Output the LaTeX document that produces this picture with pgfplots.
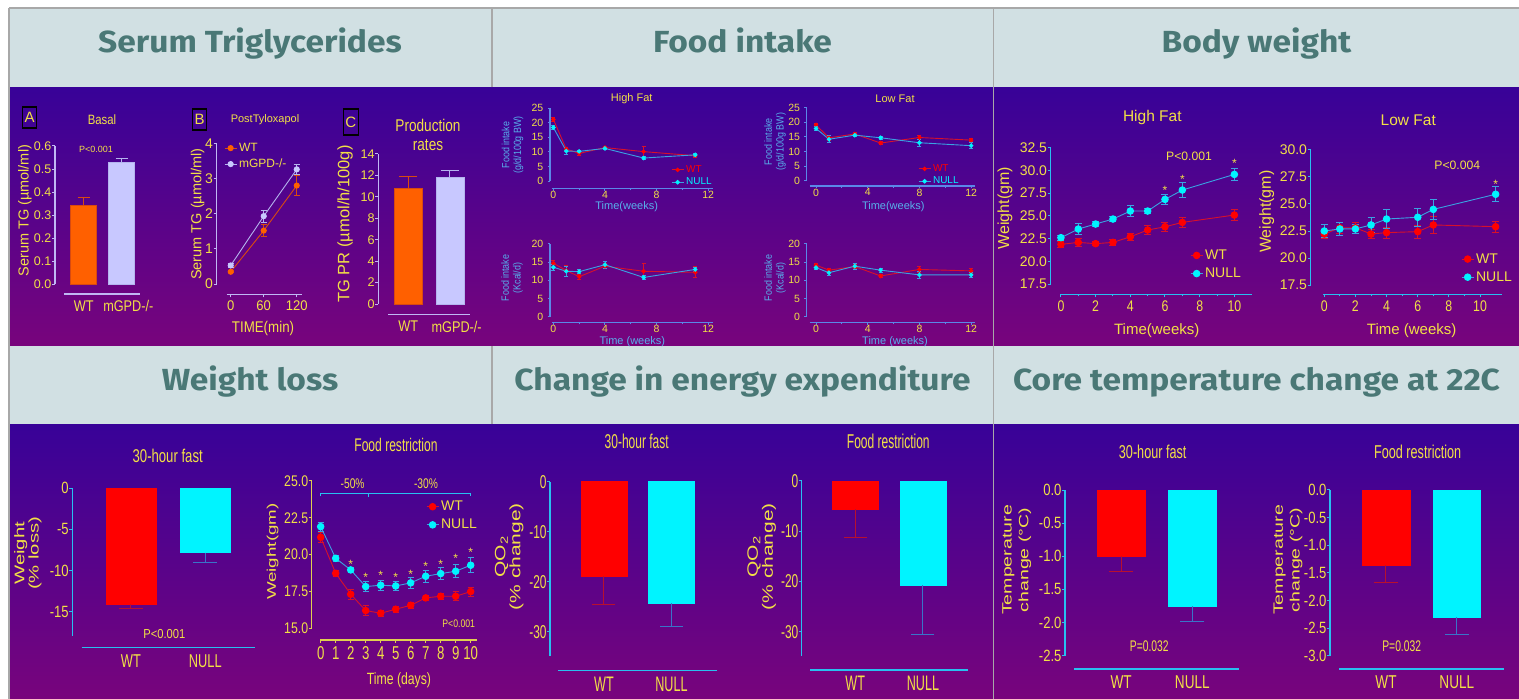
\documentclass[border=0pt]{standalone}
\usepackage{pgfplots}
\pgfplotsset{compat=1.18}
\usepackage{fontspec}
\setmainfont{Liberation Sans}
\newfontfamily\hdrfont{Fira Sans}
\newcommand\fs[2]{\fontsize{#1}{#2}\selectfont}
\definecolor{hdrbg}{HTML}{D1E0E3}
\definecolor{hdrtx}{HTML}{4A7876}
\definecolor{gridln}{HTML}{A8A8A8}
\definecolor{bgtop}{RGB}{56,2,152}
\definecolor{bgbot}{RGB}{120,4,124}
\definecolor{tyel}{HTML}{F2E046}
\definecolor{acyan}{HTML}{28C0F0}
\definecolor{alav}{HTML}{C0B8F4}
\definecolor{ablue}{HTML}{5A88E8}
\definecolor{lblue}{HTML}{58B0EC}
\definecolor{ayel}{HTML}{E0D050}
\definecolor{wtred}{HTML}{FF0000}
\definecolor{wtline}{HTML}{D8102A}
\definecolor{nucy}{HTML}{00F4FF}
\definecolor{nuline}{HTML}{3AA2E2}
\definecolor{errred}{HTML}{B8102E}
\definecolor{errblue}{HTML}{3A74C8}
\definecolor{orng}{HTML}{FF6000}
\definecolor{orngd}{HTML}{D84A10}
\definecolor{lav}{HTML}{C8C8FF}
\definecolor{lavd}{HTML}{B4B4EE}
\pgfplotsset{
  gp/.style={scale only axis, clip=false, anchor=south west,
    axis x line*=bottom, axis y line*=left,
    tick align=outside, major tick length=3pt, minor tick length=2pt,
    axis line style={line width=1.2pt}, tick style={line width=1pt},
    xticklabel style={text=tyel}, yticklabel style={text=tyel, inner sep=0.5pt},
    /pgf/number format/assume math mode=true,
    legend cell align=left,
    legend image code/.code={\draw[mark repeat=2,mark phase=2,##1] plot coordinates {(0pt,0pt) (6pt,0pt) (12pt,0pt)};},
    legend style={draw=none, fill=none, text=tyel, inner sep=0pt, row sep=2pt}},
  food/.style={major tick length=2.5pt, minor tick length=2pt,
    yticklabel style={inner sep=4pt}, xticklabel style={inner sep=0pt}},
  axc/.style={axis line style={draw=#1}, tick style={draw=#1}},
  xs/.style={x axis line style={shorten <=#1}},
  ys/.style={y axis line style={shorten <=#1}},
  ytl/.style 2 args={yticklabel style={font=\fs{#1}{#1}, xscale=#2}},
  xtl/.style 2 args={xticklabel style={font=\fs{#1}{#1}, xscale=#2}},
  cats/.style 2 args={xtick={0,#2}, xticklabels={WT,#1}, xtick style={draw=none}},
  bar/.style n args={6}{ybar, bar shift=0pt, bar width=#1, fill=#2, draw=#3,
     error bars/y dir=#4, error bars/y explicit,
     error bars/error bar style={#5, line width=1pt},
     error bars/error mark options={rotate=90, mark size=#6, #5, line width=1pt}},
  ser/.style n args={4}{#1, line width=0.9pt, mark=*, mark size=#3, mark options={fill=#2, draw=#2, solid},
     error bars/y dir=both, error bars/y explicit,
     error bars/error bar style={#1, line width=0.8pt},
     error bars/error mark options={rotate=90, mark size=#4, #1, line width=0.8pt}},
}
\begin{document}
\begin{tikzpicture}[x=1pt,y=1pt]
\useasboundingbox (0,0) rectangle (1519,699);
\fill[white] (0,0) rectangle (1519,699);
\fill[hdrbg] (9,611.7) rectangle (1519,690.7);
\fill[hdrbg] (9,274.7) rectangle (1519,353);
\shade[top color=bgtop, bottom color=bgbot] (9,353) rectangle (1519,611.7);
\shade[top color=bgtop, bottom color=bgbot] (9,0) rectangle (1519,274.7);
\draw[gridln, line width=1.6pt] (9,690.7) -- (1519,690.7);
\draw[gridln, line width=1.6pt] (9,0) -- (9,690.7);
\draw[gridln, line width=1.6pt] (491.7,611.7) -- (491.7,690.7);
\draw[gridln, line width=1.6pt] (491.7,274.7) -- (491.7,353);
\draw[gridln, line width=1.6pt] (993.3,0) -- (993.3,690.7);
% headers
\begin{scope}[every node/.style={anchor=base, text=hdrtx, font=\hdrfont\bfseries\fs{30.5}{31}, xscale=1.1}]
\node at (250,646.7) {Serum Triglycerides};
\node at (742.5,646.7) {Food intake};
\node at (1256.5,646.7) {Body weight};
\node at (250,308.7) {Weight loss};
\node at (742.5,308.7) {Change in energy expenditure};
\node at (1256.5,308.7) {Core temperature change at 22C};
\end{scope}

%================ Serum TG =================
\begin{scope}[every node/.append style={text=tyel}]
\node[draw=black, line width=1.2pt, minimum width=14pt, minimum height=21pt, inner sep=0pt, font=\fs{15}{15}] at (29.7,581.5) {A};
\node[draw=black, line width=1.2pt, minimum width=14pt, minimum height=21pt, inner sep=0pt, font=\fs{15}{15}] at (199.7,579.5) {B};
\node[draw=black, line width=1.2pt, minimum width=15pt, minimum height=26pt, inner sep=0pt, font=\fs{15}{15}] at (350.8,577) {C};
\node[font=\fs{13.5}{14}, xscale=0.84] at (102,579) {Basal};
\node[font=\fs{9}{9}] at (96,550) {P<0.001};
\node[font=\fs{11}{11}] at (265,579) {PostTyloxapol};
\node[font=\fs{17}{19}, xscale=0.8, align=center] at (428,564.5) {Production\\rates};
\node[font=\fs{14.5}{15}, rotate=90] at (25,488.3) {Serum TG (µmol/ml)};
\node[font=\fs{14.5}{15}, rotate=90] at (197.5,485) {Serum TG (µmol/ml)};
\node[font=\fs{16.5}{17}, rotate=90] at (345,475) {TG PR (µmol/h/100g)};
\node[font=\fs{15.5}{16}, xscale=0.86] at (263,371) {TIME(min)};
\end{scope}

\begin{axis}[gp, axc=alav, at={(55pt,405pt)}, width=85pt, height=148pt,
  xmin=-0.759, xmax=1.489, ymin=-0.042, ymax=0.6, xs=9pt, ys=9.7pt,
  cats={mGPD-/-}{1.18},
  ytick={0,0.1,0.2,0.3,0.4,0.5,0.6}, yticklabels={0.0,0.1,0.2,0.3,0.4,0.5,0.6},
  ytl={12.5}{1}, xtl={15.5}{0.82}]
\addplot[bar={26pt}{orng}{orngd}{plus}{orngd}{6pt}] coordinates {(0,0.345) +- (0,0.03)};
\addplot[bar={26pt}{lav}{lavd}{plus}{lavd}{6pt}] coordinates {(1,0.53) +- (0,0.017)};
\end{axis}

\begin{axis}[gp, axc=alav, at={(216.7pt,404.7pt)}, width=85pt, height=151pt,
  xmin=-25.5, xmax=129, ymin=-0.29, ymax=4, xs=10pt, ys=10.3pt,
  xtick={0,60,120}, xticklabels={0,60,120}, ytick={0,1,2,3,4}, yticklabels={0,1,2,3,4},
  ytl={14}{1}, xtl={14}{0.93},
  legend style={at={(rel axis cs:0.086,1.015)}, anchor=north west, font=\fs{12}{12}}]
\addplot[ser={orngd}{orng}{2.6pt}{3pt}] coordinates {(0,0.35) +- (0,0.03) (60,1.52) +- (0,0.17) (120,2.8) +- (0,0.28)};
\addplot[ser={lavd}{lav}{2.6pt}{3pt}] coordinates {(0,0.53) +- (0,0.05) (60,1.93) +- (0,0.17) (120,3.26) +- (0,0.13)};
\legend{WT,mGPD-/-}
\end{axis}

\begin{axis}[gp, axc=alav, at={(378.3pt,384.7pt)}, width=91.7pt, height=160.3pt,
  xmin=-0.72, xmax=1.48, ymin=-0.96, ymax=14, xs=9.7pt, ys=10.3pt,
  cats={mGPD-/-}{1.16},
  ytick={0,2,4,6,8,10,12,14}, yticklabels={0,2,4,6,8,10,12,14},
  ytl={12.6}{1}, xtl={15.5}{0.82}]
\addplot[bar={28pt}{orng}{orngd}{plus}{orngd}{9pt}] coordinates {(0,10.8) +- (0,1.1)};
\addplot[bar={28pt}{lav}{lavd}{plus}{lavd}{9pt}] coordinates {(1,11.8) +- (0,0.7)};
\end{axis}

%================ Food intake =================
\begin{scope}[every node/.append style={text=tyel}]
\node[font=\fs{11}{11}] at (631.7,600.7) {High Fat};
\node[font=\fs{11}{11}] at (895,600.7) {Low Fat};
\end{scope}
\begin{scope}[every node/.append style={text=lblue}]
\node[font=\fs{10.5}{11.6}, align=center, yscale=0.85, rotate=90] at (512.5,554) {Food intake\\(g/d/100g BW)};
\node[font=\fs{10.5}{11.6}, align=center, yscale=0.85, rotate=90] at (512,421) {Food intake\\(Kcal/d)};
\node[font=\fs{10.5}{11.6}, align=center, yscale=0.85, rotate=90] at (775,557.3) {Food intake\\(g/d/100g BW)};
\node[font=\fs{10.5}{11.6}, align=center, yscale=0.85, rotate=90] at (775,421) {Food intake\\(Kcal/d)};
\node[font=\fs{11}{11}] at (626.7,492.5) {Time(weeks)};
\node[font=\fs{11}{11}] at (632.3,357) {Time (weeks)};
\node[font=\fs{11}{11}] at (893.3,492.5) {Time(weeks)};
\node[font=\fs{11}{11}] at (895,357) {Time (weeks)};
\end{scope}

\begin{axis}[gp, food, axc=ablue, at={(550pt,510.7pt)}, width=163.3pt, height=80pt,
  xmin=-0.26, xmax=12.4, ymin=-2.5, ymax=25, xs=1.7pt, ys=7.3pt,
  xtick={0,4,8,12}, xticklabels={0,4,8,12}, minor xtick={2,6,10},
  ytick={0,5,10,15,20,25}, yticklabels={0,5,10,15,20,25},
  ytl={10.5}{1}, xtl={10.5}{1},
  legend style={at={(rel axis cs:0.741,0.31)}, anchor=north west, font=\fs{10}{10}, row sep=0pt}]
\addplot[ser={wtline}{wtred}{1.8pt}{2pt}] coordinates {(0,21.2) +- (0,0.8) (1,11.0) +- (0,0.6) (2,9.5) +- (0,0.8) (4,11.5) +- (0,0.5) (7,10.1) +- (0,1.7) (11,8.7) +- (0,0.6)};
\addplot[ser={nuline}{nucy}{1.8pt}{2pt}] coordinates {(0,18.4) +- (0,0.7) (1,10.3) +- (0,1.0) (2,10.2) +- (0,0.4) (4,11.2) +- (0,0.4) (7,7.9) +- (0,0.4) (11,9.0) +- (0,0.5)};
\legend{\textcolor{wtred}{WT},\textcolor{nucy}{NULL}}
\end{axis}

\begin{axis}[gp, food, axc=ablue, at={(550pt,376.7pt)}, width=163.3pt, height=78.3pt,
  xmin=-0.26, xmax=12.4, ymin=-1.54, ymax=20, xs=1.7pt, ys=5.6pt,
  xtick={0,4,8,12}, xticklabels={0,4,8,12}, minor xtick={2,6,10},
  ytick={0,5,10,15,20}, yticklabels={0,5,10,15,20},
  ytl={10.5}{1}, xtl={10.5}{1}]
\addplot[ser={wtline}{wtred}{1.8pt}{2pt}] coordinates {(0,14.7) +- (0,0.8) (1,12.7) +- (0,1.5) (2,11.0) +- (0,0.7) (4,13.9) +- (0,0.7) (7,12.5) +- (0,2.2) (11,12.2) +- (0,1.5)};
\addplot[ser={nuline}{nucy}{1.8pt}{2pt}] coordinates {(0,13.6) +- (0,0.8) (1,12.5) +- (0,1.4) (2,12.4) +- (0,0.6) (4,14.3) +- (0,0.9) (7,10.8) +- (0,0.6) (11,13.0) +- (0,0.6)};
\end{axis}

\begin{axis}[gp, food, axc=ablue, at={(806.7pt,513pt)}, width=168.3pt, height=78.3pt,
  xmin=-0.72, xmax=12.3, ymin=-1.8, ymax=25, xs=3pt, ys=5.3pt,
  xtick={0,4,8,12}, xticklabels={0,4,8,12}, minor xtick={2,6,10},
  ytick={0,5,10,15,20,25}, yticklabels={0,5,10,15,20,25},
  ytl={10.5}{1}, xtl={10.5}{1},
  legend style={at={(rel axis cs:0.661,0.30)}, anchor=north west, font=\fs{10}{10}, row sep=0pt}]
\addplot[ser={wtline}{wtred}{1.8pt}{2pt}] coordinates {(0,19.1) +- (0,0.6) (1,14.7) +- (0,0.8) (3,16.0) +- (0,0.4) (5,12.9) +- (0,0.4) (8,14.8) +- (0,0.6) (12,13.9) +- (0,0.5)};
\addplot[ser={nuline}{nucy}{1.8pt}{2pt}] coordinates {(0,17.9) +- (0,0.6) (1,14.2) +- (0,1.2) (3,15.6) +- (0,0.5) (5,14.7) +- (0,0.5) (8,13.0) +- (0,1.3) (12,12.0) +- (0,1.0)};
\legend{\textcolor{wtred}{WT},\textcolor{nucy}{NULL}}
\end{axis}

\begin{axis}[gp, food, axc=ablue, at={(806.7pt,376.7pt)}, width=168.3pt, height=78.3pt,
  xmin=-0.72, xmax=12.3, ymin=-1.54, ymax=20, xs=3pt, ys=5.6pt,
  xtick={0,4,8,12}, xticklabels={0,4,8,12}, minor xtick={2,6,10},
  ytick={0,5,10,15,20}, yticklabels={0,5,10,15,20},
  ytl={10.5}{1}, xtl={10.5}{1}]
\addplot[ser={wtline}{wtred}{1.8pt}{2pt}] coordinates {(0,14.2) +- (0,0.5) (1,12.8) +- (0,0.6) (3,13.8) +- (0,0.5) (5,11.2) +- (0,0.5) (8,13.0) +- (0,0.9) (12,12.6) +- (0,0.6)};
\addplot[ser={nuline}{nucy}{1.8pt}{2pt}] coordinates {(0,13.5) +- (0,0.5) (1,12.1) +- (0,0.7) (3,13.9) +- (0,0.8) (5,12.8) +- (0,0.5) (8,11.5) +- (0,0.9) (12,11.5) +- (0,0.7)};
\end{axis}

%================ Body weight =================
\begin{scope}[every node/.append style={text=tyel}]
\node[font=\fs{15.5}{16}] at (1152.3,581.7) {High Fat};
\node[font=\fs{15.5}{16}] at (1408.3,579) {Low Fat};
\node[font=\fs{16}{16}, rotate=90] at (1005,490.7) {Weight(gm)};
\node[font=\fs{16}{16}, rotate=90] at (1266.7,487.3) {Weight(gm)};
\node[font=\fs{15}{15}] at (1156.7,368) {Time(weeks)};
\node[font=\fs{15}{15}] at (1411.7,368) {Time (weeks)};
\node[font=\fs{12.2}{12}] at (1189,543) {P<0.001};
\node[font=\fs{12.2}{12}] at (1457.3,534) {P<0.004};
\end{scope}

\begin{axis}[gp, axc=acyan, at={(1050.7pt,404.7pt)}, width=201pt, height=146.6pt,
  xmin=-0.59, xmax=11.0, ymin=16.37, ymax=32.5, xs=10.3pt, ys=10.3pt,
  xtick={0,2,4,6,8,10}, xticklabels={0,2,4,6,8,10}, minor x tick num=1,
  ytick={17.5,20,22.5,25,27.5,30,32.5}, yticklabels={17.5,20.0,22.5,25.0,27.5,30.0,32.5},
  ytl={14}{1}, xtl={15.4}{0.8},
  legend style={at={(rel axis cs:0.693,0.318)}, anchor=north west, font=\fs{14}{14}, row sep=3pt}]
\addplot[ser={wtline}{wtred}{3.3pt}{3.5pt}] coordinates {(0,21.86) +- (0,0.3) (1,22.08) +- (0,0.4) (2,21.94) +- (0,0.2) (3,22.08) +- (0,0.3) (4,22.7) +- (0,0.4) (5,23.44) +- (0,0.5) (6,23.8) +- (0,0.5) (7,24.28) +- (0,0.6) (10,25.09) +- (0,0.6)};
\addplot[ser={nuline}{nucy}{3.3pt}{3.5pt}] coordinates {(0,22.6) +- (0,0.3) (1,23.55) +- (0,0.6) (2,24.1) +- (0,0.3) (3,24.65) +- (0,0.3) (4,25.53) +- (0,0.6) (5,25.53) +- (0,0.3) (6,26.81) +- (0,0.5) (7,27.84) +- (0,0.8) (10,29.56) +- (0,0.7)};
\legend{WT,NULL}
\node[text=tyel, font=\fs{12}{12}, yshift=-2.5pt] at (axis cs:6,28.03) {*};
\node[text=tyel, font=\fs{12}{12}, yshift=-2.5pt] at (axis cs:7,29.31) {*};
\node[text=tyel, font=\fs{12}{12}, yshift=-2.5pt] at (axis cs:10,31.04) {*};
\end{axis}

\begin{axis}[gp, axc=acyan, at={(1310.7pt,404.7pt)}, width=191pt, height=144.3pt,
  xmin=-0.87, xmax=11.39, ymin=16.64, ymax=30, xs=12.6pt, ys=9.3pt,
  xtick={0,2,4,6,8,10}, xticklabels={0,2,4,6,8,10}, minor x tick num=1,
  ytick={17.5,20,22.5,25,27.5,30}, yticklabels={17.5,20.0,22.5,25.0,27.5,30.0},
  ytl={14}{1}, xtl={15.4}{0.8},
  legend style={at={(rel axis cs:0.787,0.298)}, anchor=north west, font=\fs{14}{14}, row sep=3pt}]
\addplot[ser={wtline}{wtred}{3.3pt}{3.5pt}] coordinates {(0,22.22) +- (0,0.4) (1,22.8) +- (0,0.5) (2,22.8) +- (0,0.5) (3,22.22) +- (0,0.4) (4,22.35) +- (0,0.5) (6,22.44) +- (0,0.6) (7,23.06) +- (0,0.8) (11,22.9) +- (0,0.5)};
\addplot[ser={nuline}{nucy}{3.3pt}{3.5pt}] coordinates {(0,22.5) +- (0,0.6) (1,22.69) +- (0,0.6) (2,22.69) +- (0,0.4) (3,23.06) +- (0,0.7) (4,23.61) +- (0,0.9) (6,23.77) +- (0,0.8) (7,24.5) +- (0,0.9) (11,25.9) +- (0,0.7)};
\legend{WT,NULL}
\node[text=tyel, font=\fs{12}{12}, yshift=-2.5pt] at (axis cs:11,27.07) {*};
\end{axis}

%================ Weight loss =================
\begin{scope}[every node/.append style={text=tyel}]
\node[font=\fs{18.5}{19}, xscale=0.71] at (167.7,243) {30-hour fast};
\node[font=\fs{18.3}{19}, xscale=0.66] at (396,254) {Food restriction};
\node[font=\fs{14}{14.3}, align=center, yscale=1.45, rotate=90] at (27.8,145.7) {Weight\\(\% loss)};
\node[font=\fs{12.5}{13}, yscale=1.5, rotate=90] at (272.7,147.3) {Weight(gm)};
\node[font=\fs{16.3}{17}, xscale=0.75] at (399,19) {Time (days)};
\node[font=\fs{13}{13}, xscale=0.86] at (164.3,64.7) {P<0.001};
\node[font=\fs{11}{11}, xscale=0.79] at (458.7,75.7) {P<0.001};
\end{scope}

\begin{axis}[gp, axc=acyan, at={(72.3pt,51.3pt)}, width=182.7pt, height=159.4pt,
  xmin=-0.79, xmax=1.67, ymin=-19.4, ymax=0, xs=9.4pt, ys=12pt,
  cats={NULL}{1},
  ytick={-15,-10,-5,0}, yticklabels={-15,-10,-5,0},
  ytl={16.3}{0.8}, xtl={18.6}{0.69}]
\addplot[bar={49.7pt}{wtred}{wtred}{minus}{errred}{12pt}] coordinates {(0,-14.1) +- (0,0.55)};
\addplot[bar={49.7pt}{nucy}{nucy}{minus}{errblue}{12pt}] coordinates {(1,-7.83) +- (0,1.22)};
\end{axis}

\begin{axis}[gp, axc=ayel, at={(311.7pt,59pt)}, width=165.6pt, height=159pt,
  xmin=-0.6, xmax=10.44, ymin=14.2, ymax=25, xs=8.3pt, ys=11.7pt,
  xtick={0,1,2,3,4,5,6,7,8,9,10}, xticklabels={0,1,2,3,4,5,6,7,8,9,10},
  ytick={15,17.5,20,22.5,25}, yticklabels={15.0,17.5,20.0,22.5,25.0},
  ytl={15.4}{0.8}, xtl={18.6}{0.71},
  legend style={at={(rel axis cs:0.69,0.887)}, anchor=north west, font=\fs{14}{14}, row sep=3pt}]
\addplot[ser={wtline}{wtred}{3.3pt}{3pt}] coordinates {(0,21.18) +- (0,0.35) (1,18.73) +- (0,0.2) (2,17.31) +- (0,0.35) (3,16.2) +- (0,0.35) (4,16.02) +- (0,0.2) (5,16.29) +- (0,0.2) (6,16.56) +- (0,0.2) (7,17.06) +- (0,0.2) (8,17.17) +- (0,0.2) (9,17.17) +- (0,0.3) (10,17.49) +- (0,0.3)};
\addplot[ser={nuline}{nucy}{3.3pt}{3pt}] coordinates {(0,21.9) +- (0,0.3) (1,19.75) +- (0,0.2) (2,18.96) +- (0,0.2) (3,17.83) +- (0,0.35) (4,17.92) +- (0,0.35) (5,17.87) +- (0,0.3) (6,18.08) +- (0,0.35) (7,18.53) +- (0,0.4) (8,18.71) +- (0,0.4) (9,18.87) +- (0,0.45) (10,19.28) +- (0,0.5)};
\legend{WT,NULL}
\draw[acyan, line width=1.1pt] (axis cs:0,23.95) -- (axis cs:0,24.17) -- (axis cs:10,24.17) -- (axis cs:10,23.95);
\draw[acyan, line width=1.1pt] (axis cs:3.17,24.17) -- (axis cs:3.17,23.92);
\node[text=tyel, font=\fs{14}{14}, xscale=0.73] at (axis cs:2.13,24.84) {-50\%};
\node[text=tyel, font=\fs{14}{14}, xscale=0.73] at (axis cs:7.02,24.84) {-30\%};
\node[text=tyel, font=\fs{12}{12}, yshift=-2.5pt] at (axis cs:2,19.52) {*};
\node[text=tyel, font=\fs{12}{12}, yshift=-2.5pt] at (axis cs:3,18.62) {*};
\node[text=tyel, font=\fs{12}{12}, yshift=-2.5pt] at (axis cs:4,18.78) {*};
\node[text=tyel, font=\fs{12}{12}, yshift=-2.5pt] at (axis cs:5,18.62) {*};
\node[text=tyel, font=\fs{12}{12}, yshift=-2.5pt] at (axis cs:6,18.85) {*};
\node[text=tyel, font=\fs{12}{12}, yshift=-2.5pt] at (axis cs:7,19.34) {*};
\node[text=tyel, font=\fs{12}{12}, yshift=-2.5pt] at (axis cs:8,19.52) {*};
\node[text=tyel, font=\fs{12}{12}, yshift=-2.5pt] at (axis cs:9,19.91) {*};
\node[text=tyel, font=\fs{12}{12}, yshift=-2.5pt] at (axis cs:10,20.32) {*};
\end{axis}

%================ Energy expenditure =================
\begin{scope}[every node/.append style={text=tyel}]
\node[font=\fs{20}{20}, xscale=0.6] at (636.7,257.3) {30-hour fast};
\node[font=\fs{20}{20}, xscale=0.6] at (888.3,258) {Food restriction};
\node[font=\fs{15}{15}, align=center, yscale=1.4, rotate=90] at (509.2,142.3) {QO\textsubscript{2}\\(\% change)};
\node[font=\fs{15}{15}, align=center, yscale=1.4, rotate=90] at (761.7,142.3) {QO\textsubscript{2}\\(\% change)};
\end{scope}

\begin{axis}[gp, axc=acyan, at={(550pt,28.3pt)}, width=166.7pt, height=189pt,
  xmin=-0.8, xmax=1.67, ymin=-37.8, ymax=0, xs=8.3pt, ys=14.7pt,
  cats={NULL}{1},
  ytick={-30,-20,-10,0}, yticklabels={-30,-20,-10,0},
  ytl={18.6}{0.64}, xtl={21}{0.6}]
\addplot[bar={45.7pt}{wtred}{wtred}{minus}{errred}{11.5pt}] coordinates {(0,-18.9) +- (0,5.6)};
\addplot[bar={45.7pt}{nucy}{nucy}{minus}{errblue}{11.5pt}] coordinates {(1,-24.3) +- (0,4.6)};
\end{axis}

\begin{axis}[gp, axc=acyan, at={(801.7pt,29pt)}, width=166.6pt, height=189pt,
  xmin=-0.79, xmax=1.67, ymin=-37.6, ymax=0, xs=8.3pt, ys=14pt,
  cats={NULL}{1},
  ytick={-30,-20,-10,0}, yticklabels={-30,-20,-10,0},
  ytl={18.6}{0.64}, xtl={21}{0.6}]
\addplot[bar={45.7pt}{wtred}{wtred}{minus}{errred}{11.5pt}] coordinates {(0,-5.6) +- (0,5.6)};
\addplot[bar={45.7pt}{nucy}{nucy}{minus}{errblue}{11.5pt}] coordinates {(1,-20.7) +- (0,9.8)};
\end{axis}

%================ Core temperature =================
\begin{scope}[every node/.append style={text=tyel}]
\node[font=\fs{18.6}{19}, xscale=0.68] at (1152.7,246.7) {30-hour fast};
\node[font=\fs{18.6}{19}, xscale=0.68] at (1417.7,246.7) {Food restriction};
\node[font=\fs{13.5}{16.7}, align=center, yscale=1.45, rotate=90] at (1016.7,139) {Temperature\\change (°C)};
\node[font=\fs{13.5}{16.7}, align=center, yscale=1.45, rotate=90] at (1288,139) {Temperature\\change (°C)};
\node[font=\fs{15.4}{15}, xscale=0.67] at (1149.3,52.3) {P=0.032};
\node[font=\fs{15.4}{15}, xscale=0.67] at (1401.7,52.3) {P=0.032};
\end{scope}

\begin{axis}[gp, axc=acyan, at={(1065pt,30pt)}, width=174.3pt, height=179pt,
  xmin=-0.79, xmax=1.66, ymin=-2.7, ymax=0, xs=9pt, ys=13.3pt,
  cats={NULL}{1},
  ytick={-2.5,-2,-1.5,-1,-0.5,0}, yticklabels={-2.5,-2.0,-1.5,-1.0,-0.5,0.0},
  ytl={16.3}{0.8}, xtl={18.6}{0.73}]
\addplot[bar={47.7pt}{wtred}{wtred}{minus}{errred}{12pt}] coordinates {(0,-0.995) +- (0,0.23)};
\addplot[bar={47.7pt}{nucy}{nucy}{minus}{errblue}{12pt}] coordinates {(1,-1.75) +- (0,0.24)};
\end{axis}

\begin{axis}[gp, axc=acyan, at={(1330pt,30pt)}, width=174.3pt, height=179pt,
  xmin=-0.79, xmax=1.67, ymin=-3.24, ymax=0, xs=9pt, ys=13.3pt,
  cats={NULL}{1},
  ytick={-3,-2.5,-2,-1.5,-1,-0.5,0}, yticklabels={-3.0,-2.5,-2.0,-1.5,-1.0,-0.5,0.0},
  ytl={16.3}{0.8}, xtl={18.6}{0.73}]
\addplot[bar={47.7pt}{wtred}{wtred}{minus}{errred}{12pt}] coordinates {(0,-1.364) +- (0,0.316)};
\addplot[bar={47.7pt}{nucy}{nucy}{minus}{errblue}{12pt}] coordinates {(1,-2.3) +- (0,0.32)};
\end{axis}
\end{tikzpicture}
\end{document}
